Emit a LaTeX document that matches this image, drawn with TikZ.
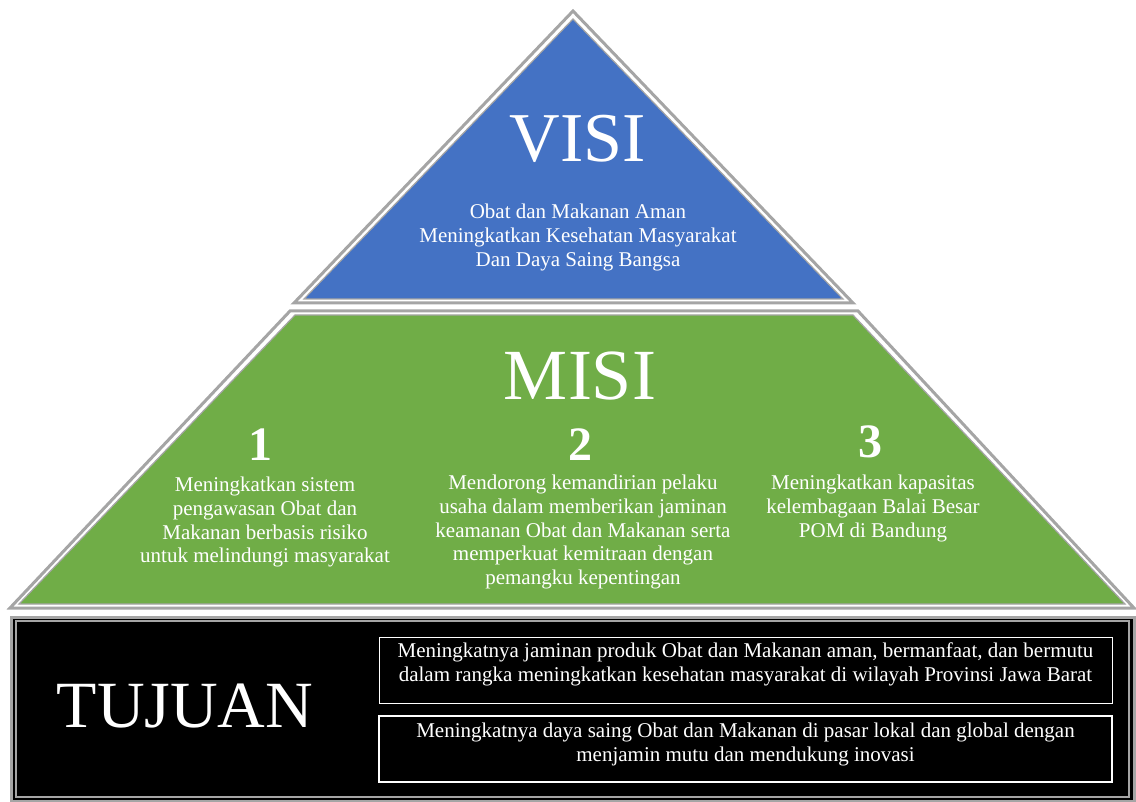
\documentclass[tikz,border=0pt]{standalone}
\usepackage{fontspec}
\setmainfont{Liberation Serif}
\usepackage{tikz}
\usetikzlibrary{positioning}
\definecolor{azul}{HTML}{4472C4}
\definecolor{verde}{HTML}{70AD47}
\definecolor{borde}{HTML}{A5A5A5}

\begin{document}
\begin{tikzpicture}[x=1pt, y=-1pt, thick]
        \tikzstyle{titulo} = [text=white, font=\fontsize{70}{70}\selectfont, inner sep=0pt]
        \tikzstyle{numero} = [text=white, font=\fontsize{48}{48}\selectfont\bfseries, inner sep=0pt]
        \tikzstyle{texto} = [text=white, align=center, font=\fontsize{21}{23.6}\selectfont, inner sep=0pt]
        \tikzstyle{caja} = [draw=white, minimum width=733pt, minimum height=66pt, inner sep=0pt]
        \tikzstyle{marco} = [draw=borde, line width=3pt, fill=white]
        \tikzstyle{interior} = [draw=borde, line width=1.2pt]

        \useasboundingbox (0,0) rectangle (1136,802);

        % Triangulo de la visi
        \draw[marco] (573,11) -- (853,303) -- (294,303) -- cycle;
        \draw[interior, fill=azul] (573,19) -- (843,299) -- (304,299) -- cycle;

        % Trapecio de la misi
        \draw[marco] (290,311) -- (858,311) -- (1134,608) -- (10,608) -- cycle;
        \draw[interior, fill=verde] (295,315) -- (853,315) -- (1125,604) -- (19,604) -- cycle;

        % Rectangulo de tujuan
        \draw[draw=borde, line width=3pt, fill=black] (11,617) rectangle (1134,801);
        \draw[interior] (16,621) rectangle (1129,797);

        % Definición de nodos
        \node[titulo] (visi) at (578,139) {VISI};
        \node[texto, anchor=north] (tvisi) at (578,204) {Obat dan Makanan Aman\\Meningkatkan Kesehatan Masyarakat\\Dan Daya Saing Bangsa};

        \node[titulo, font=\fontsize{72}{72}\selectfont] (misi) at (580,376) {MISI};
        \node[numero] (uno) at (260,445) {1};
        \node[numero] (dos) at (580,445) {2};
        \node[numero] (tres) at (870,442) {3};
        \node[texto, anchor=north] (misiuno) at (265,477) {Meningkatkan sistem\\pengawasan Obat dan\\Makanan berbasis risiko\\untuk melindungi masyarakat};
        \node[texto, anchor=north] (misidos) at (583,475) {Mendorong kemandirian pelaku\\usaha dalam memberikan jaminan\\keamanan Obat dan Makanan serta\\memperkuat kemitraan dengan\\pemangku kepentingan};
        \node[texto, anchor=north] (misitres) at (873,475) {Meningkatkan kapasitas\\kelembagaan Balai Besar\\POM di Bandung};

        \node[titulo, font=\fontsize{66}{66}\selectfont] (tujuan) at (185,706) {TUJUAN};
        \node[caja, line width=1pt] (cajauno) at (745.5,670) {};
        \node[caja, line width=2pt] (cajados) at (745.5,748.5) {};
        \node[texto, anchor=north, font=\fontsize{21}{24.6}\selectfont] (tujuanuno) at (745.5,642) {Meningkatnya jaminan produk Obat dan Makanan aman, bermanfaat, dan bermutu\\dalam rangka meningkatkan kesehatan masyarakat di wilayah Provinsi Jawa Barat};
        \node[texto, anchor=north] (tujuandos) at (745.5,723) {Meningkatnya daya saing Obat dan Makanan di pasar lokal dan global dengan\\menjamin mutu dan mendukung inovasi};

        \end{tikzpicture}
\end{document}
